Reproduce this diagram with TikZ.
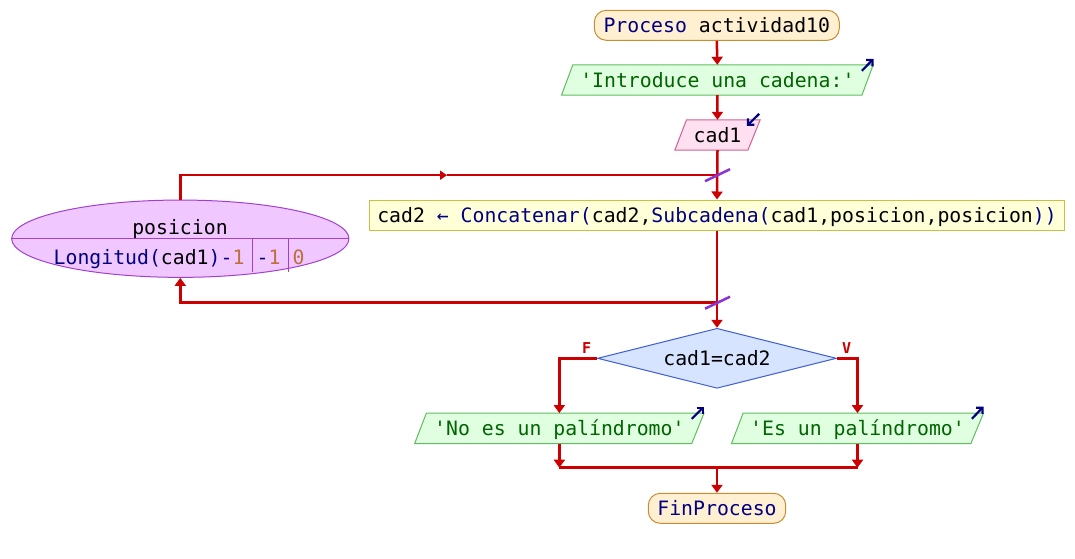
\documentclass[tikz,border=0pt]{standalone}
\usepackage{fontspec}
\newfontfamily\pmono{DejaVu Sans Mono}
\usetikzlibrary{shapes.geometric,arrows.meta,backgrounds,calc}
\definecolor{navy}{RGB}{0,0,128}
\definecolor{strgreen}{RGB}{0,100,0}
\definecolor{numbrown}{RGB}{190,112,60}
\definecolor{flowred}{RGB}{204,0,0}
\definecolor{slashpurple}{RGB}{140,50,210}
\definecolor{termfill}{RGB}{255,240,210}
\definecolor{termdraw}{RGB}{200,140,50}
\definecolor{iofillc}{RGB}{224,255,224}
\definecolor{iodraw}{RGB}{96,190,96}
\definecolor{infillc}{RGB}{255,224,240}
\definecolor{indraw}{RGB}{208,96,150}
\definecolor{procfill}{RGB}{255,255,216}
\definecolor{procdraw}{RGB}{200,192,64}
\definecolor{loopfill}{RGB}{240,200,255}
\definecolor{loopdraw}{RGB}{160,64,210}
\definecolor{decfill}{RGB}{214,228,255}
\definecolor{decdraw}{RGB}{64,96,208}
\begin{document}
\begin{tikzpicture}[x=1pt,y=-1pt,
  font={\pmono\fontsize{19.8pt}{24pt}\selectfont},
  box/.style={inner sep=0pt, text height=14.4pt, text depth=0pt, minimum height=30pt, align=center},
  term/.style={box, draw=termdraw, fill=termfill, rounded corners=12pt, line width=1pt},
  procbox/.style={box, draw=procdraw, fill=procfill, line width=1pt},
  outshape/.style={draw=iodraw, fill=iofillc, line width=1pt},
  inshape/.style={draw=indraw, fill=infillc, line width=1pt},
  decbox/.style={box, shape=diamond, aspect=4, draw=decdraw, fill=decfill, line width=1pt, minimum width=239pt, minimum height=60pt},
  loopbox/.style={shape=ellipse, draw=loopdraw, fill=loopfill, line width=1pt, inner sep=0pt, minimum width=337.3pt, minimum height=77.3pt},
  txt/.style={inner sep=0pt},
  flow/.style={draw=flowred, line width=2.5pt, -{Triangle[length=8pt,width=11pt]}},
  plainline/.style={draw=flowred, line width=2.5pt},
  slashmark/.style={draw=slashpurple, line width=2.5pt},
  icon/.style={draw=navy, line width=2.2pt, -{Straight Barb[length=4.5pt,width=9pt]}},
  branchlab/.style={inner sep=0pt, text=flowred, font={\pmono\bfseries\fontsize{15pt}{16pt}\selectfont}}
]
\useasboundingbox (0,0) rectangle (1075,558);

% nodes
\node[term, minimum width=245pt] (start) at (716.8,25.3) {\textcolor{navy}{Proceso} actividad10};
\node[box, minimum width=311.3pt] (intro) at (717.35,80) {\textcolor{strgreen}{'Introduce una cadena:'}};
\node[box, minimum width=85pt] (cad1) at (717.5,135) {cad1};
\node[procbox, minimum width=695.7pt] (proc) at (717,215) {cad2 \textcolor{navy}{← Concatenar(}cad2,\textcolor{navy}{Subcadena(}cad1,posicion,posicion\textcolor{navy}{))}};
\node[loopbox] (loop) at (180.3,238.7) {};
\node[decbox] (dec) at (717,358.3) {cad1=cad2};
\node[box, minimum width=289pt] (noes) at (559.35,428.3) {\textcolor{strgreen}{'No es un palíndromo'}};
\node[box, minimum width=251.6pt] (es) at (857.5,428.3) {\textcolor{strgreen}{'Es un palíndromo'}};
\node[term, minimum width=137.4pt] (fin) at (717,508.3) {\textcolor{navy}{FinProceso}};

% white page and parallelogram outlines (behind the texts)
\begin{scope}[on background layer]
  \fill[white] (0,0) rectangle (1075,558);
  \path[outshape] (intro.south west) -- ($(intro.north west)+(11.3,0)$) -- (intro.north east) -- ($(intro.south east)+(-11.3,0)$) -- cycle;
  \path[inshape] (cad1.south west) -- ($(cad1.north west)+(11.7,0)$) -- (cad1.north east) -- ($(cad1.south east)+(-12.3,0)$) -- cycle;
  \path[outshape] (noes.south west) -- ($(noes.north west)+(11.7,0)$) -- (noes.north east) -- ($(noes.south east)+(-12.3,0)$) -- cycle;
  \path[outshape] (es.south west) -- ($(es.north west)+(11.6,0)$) -- (es.north east) -- ($(es.south east)+(-12.6,0)$) -- cycle;
\end{scope}

% loop contents
\draw[draw=loopdraw, line width=1pt] (loop.west) -- (loop.east);
\draw[draw=loopdraw, line width=1pt] (252.3,238.7) -- (252.3,271.7);
\draw[draw=loopdraw, line width=1pt] (288.3,238.7) -- (288.3,271.7);
\node[txt, anchor=base] (pvar) at (180,234) {posicion};
\node[txt, anchor=base west] (pini) at (53.5,264.3) {\textcolor{navy}{Longitud(}cad1\textcolor{navy}{)-}\textcolor{numbrown}{1}};
\node[txt, anchor=base west] (pstep) at (256.5,264.3) {\textcolor{navy}{-}\textcolor{numbrown}{1}};
\node[txt, anchor=base west] (pend) at (292.5,264.3) {\textcolor{numbrown}{0}};

% coordinates
\coordinate (j1) at (717,175.2);
\coordinate (j2) at (717,302.7);
\coordinate (am) at (447,175.2);
\coordinate (mC) at (717,467.7);

% connectors
\draw[flow] (start.south) -- (intro.north);
\draw[flow] (intro.south) -- (cad1.north);
\draw[flow] (cad1.south) -- (proc.north);
\draw[flow, -{Triangle[length=7pt,width=9pt]}] (loop.north) |- (am);
\draw[plainline] (am) -- (j1);
\draw[flow] (proc.south) -- (dec.north);
\draw[flow] (j2) -| (loop.south);
\draw[slashmark] ($(j1)+(-12,6)$) -- ($(j1)+(13,-6)$);
\draw[slashmark] ($(j2)+(-12,6)$) -- ($(j2)+(13,-6)$);

\draw[flow] (dec.west) -| (noes.north);
\draw[flow] (dec.east) -| (es.north);
\node[branchlab] (lF) at (586.7,348.5) {F};
\node[branchlab] (lV) at (846.7,348.5) {V};

\draw[flow] (noes.south) -- (noes.south |- mC);
\draw[flow] (es.south) -- (es.south |- mC);
\draw[plainline] (noes.south |- mC) -- (es.south |- mC);
\draw[flow] (mC) -- (fin.north);

% io icons
\draw[icon] ($(intro.north east)+(-11.3,6)$) -- ($(intro.north east)+(0.3,-6)$);
\draw[icon] ($(cad1.north east)+(-1,-6)$) -- ($(cad1.north east)+(-13.3,6)$);
\draw[icon] ($(noes.north east)+(-12.3,5.7)$) -- ($(noes.north east)+(0,-6.6)$);
\draw[icon] ($(es.north east)+(-11.6,5.7)$) -- ($(es.north east)+(0,-6.6)$);
\end{tikzpicture}
\end{document}
